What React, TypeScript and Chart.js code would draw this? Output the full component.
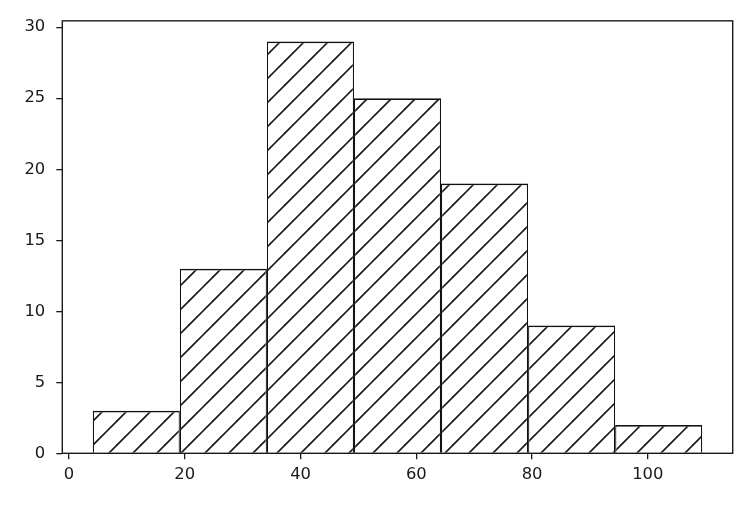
import { useEffect, useRef } from "react"
import { Chart, registerables } from "chart.js"

Chart.register(...registerables)

// histogram bins (edges) and counts
const binEdges = [4.1, 19.14, 34.19, 49.23, 64.27, 79.31, 94.36, 109.4]
const counts = [3, 13, 29, 25, 19, 9, 2]
const xTicks = [0, 20, 40, 60, 80, 100]
const yTicks = [0, 5, 10, 15, 20, 25, 30]

function makeHatch(ctx: CanvasRenderingContext2D) {
  const size = 24
  const tile = document.createElement("canvas")
  tile.width = size
  tile.height = size
  const t = tile.getContext("2d")!
  t.fillStyle = "#fff"
  t.fillRect(0, 0, size, size)
  t.strokeStyle = "#1a1a1a"
  t.lineWidth = 1.6
  for (const c of [10 - size, 10, 10 + size]) {
    t.beginPath()
    t.moveTo(c + 4, -4)
    t.lineTo(c - size - 4, size + 4)
    t.stroke()
  }
  return ctx.createPattern(tile, "repeat")
}

const framePlugin = {
  id: "frame",
  afterDatasetsDraw(chart: Chart) {
    const { ctx, chartArea } = chart
    const { left, top, right, bottom } = chartArea
    ctx.save()
    ctx.strokeStyle = "#1a1a1a"
    ctx.lineWidth = 1.4
    ctx.strokeRect(left, top, right - left, bottom - top)
    ctx.restore()
  },
}

export default function App() {
  const chartRef = useRef<HTMLCanvasElement>(null)
  const chartInstance = useRef<Chart | null>(null)

  useEffect(() => {
    if (!chartRef.current) return
    if (chartInstance.current) chartInstance.current.destroy()

    const ctx = chartRef.current.getContext("2d")
    if (!ctx) return

    const points = counts.map((c, i) => ({ x: (binEdges[i] + binEdges[i + 1]) / 2, y: c }))
    const lo = binEdges[0]
    const hi = binEdges[binEdges.length - 1]
    const margin = (hi - lo) * 0.05
    const tickFont = { family: "DejaVu Sans", size: 16.4 }

    chartInstance.current = new Chart(ctx, {
      type: "bar",
      data: {
        datasets: [
          {
            data: points,
            backgroundColor: makeHatch(ctx) as any,
            borderColor: "#111",
            borderWidth: { top: 1.8, left: 1.2, right: 1.2, bottom: 0 },
            borderSkipped: false,
            inflateAmount: 0,
            barPercentage: 1,
            categoryPercentage: 1,
          },
        ],
      },
      options: {
        animation: false,
        responsive: false,
        devicePixelRatio: 1,
        layout: { padding: { top: 18.3, right: 22.3, left: 0, bottom: 0 } },
        plugins: { legend: { display: false }, tooltip: { enabled: false } },
        scales: {
          x: {
            type: "linear",
            offset: false,
            min: lo - margin,
            max: hi + margin,
            afterBuildTicks: (s: any) => {
              s.ticks = xTicks.map((v) => ({ value: v }))
            },
            afterFit: (s: any) => {
              s.height = 51.7
            },
            grid: { offset: false, drawOnChartArea: false, tickLength: 6, color: "#1a1a1a", lineWidth: 1.3 },
            border: { display: false },
            ticks: { color: "#1a1a1a", font: tickFont, padding: 6, maxRotation: 0, autoSkip: false },
          },
          y: {
            type: "linear",
            min: 0,
            max: Math.max(...counts) * 1.05,
            afterBuildTicks: (s: any) => {
              s.ticks = yTicks.map((v) => ({ value: v }))
            },
            afterFit: (s: any) => {
              s.width = 62.3
            },
            grid: { drawOnChartArea: false, tickLength: 6, color: "#1a1a1a", lineWidth: 1.3 },
            border: { display: false },
            ticks: { color: "#1a1a1a", font: tickFont, padding: 11, autoSkip: false },
          },
        },
      },
      plugins: [framePlugin],
    })

    return () => {
      if (chartInstance.current) {
        chartInstance.current.destroy()
        chartInstance.current = null
      }
    }
  }, [])

  return (
    <div style={{ position: "absolute", left: 0, top: 0, width: 755, height: 505, background: "#fff" }}>
      <canvas ref={chartRef} width={755} height={505}></canvas>
    </div>
  )
}
